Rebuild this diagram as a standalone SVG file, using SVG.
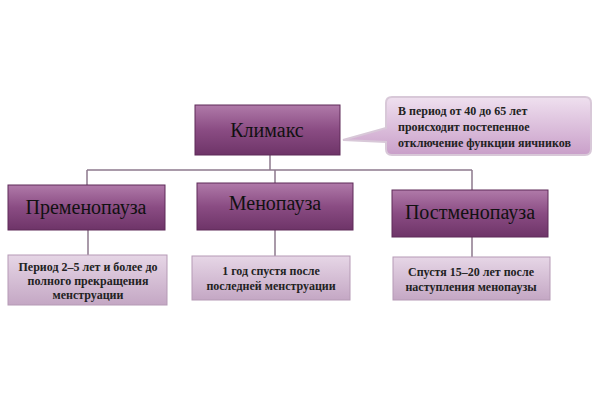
<svg xmlns="http://www.w3.org/2000/svg" width="600" height="400" viewBox="0 0 600 400">
<defs>
<linearGradient id="dk" x1="0" y1="0" x2="0" y2="1"><stop offset="0" stop-color="#b07aa9"/><stop offset="0.5" stop-color="#8a4c83"/><stop offset="1" stop-color="#6e3468"/></linearGradient>
<linearGradient id="lt" x1="0" y1="0" x2="0" y2="1"><stop offset="0" stop-color="#e6d6e6"/><stop offset="1" stop-color="#c4a7c4"/></linearGradient>
<linearGradient id="co" x1="0" y1="0" x2="0" y2="1"><stop offset="0" stop-color="#efe0ef"/><stop offset="1" stop-color="#c99fc9"/></linearGradient>
</defs>
<style>
.dk{fill:url(#dk);stroke:#5e2a59;stroke-width:1}
.lt{fill:url(#lt);stroke:#b59ab5;stroke-width:1}
.t1{font-family:"Liberation Serif",serif;font-size:20px;fill:#111;text-anchor:middle}
.t2{font-family:"Liberation Serif",serif;font-size:12px;font-weight:bold;fill:#222;text-anchor:middle}
.t3{font-family:"Liberation Serif",serif;font-size:12px;font-weight:bold;fill:#222;text-anchor:start}
.ln{fill:none;stroke:#8d7a8d;stroke-width:1.5}
</style>
<rect width="600" height="400" fill="#fff"/>
<g id="connectors">
<path class="ln" d="M270 155V170M87 170H472M87 170V185M275 170V183M472 170V190M88 230V255M275 230V256M472 237V257"/>
</g>
<g id="klimaks"><rect class="dk" x="195" y="105" width="145" height="50"/><text class="t1" x="267" y="137" font-size="22">Климакс</text></g>
<g id="callout"><path d="M392 97H585Q591 97 591 103V149Q591 155 585 155H392Q386 155 386 149V142L343 140L386 128V103Q386 97 392 97Z" fill="url(#co)" stroke="#d8c8d8" stroke-width="2"/>
<text class="t3" x="398" y="115">В период от 40 до 65 лет</text>
<text class="t3" x="398" y="131">происходит постепенное</text>
<text class="t3" x="398" y="147">отключение функции яичников</text></g>
<g id="premenopauza"><rect class="dk" x="8" y="185" width="157" height="45"/><text class="t1" x="86" y="214">Пременопауза</text></g>
<g id="menopauza"><rect class="dk" x="197" y="183" width="156" height="47"/><text class="t1" x="275" y="210">Менопауза</text></g>
<g id="postmenopauza"><rect class="dk" x="392" y="190" width="156" height="47"/><text class="t1" x="470" y="219">Постменопауза</text></g>
<g id="p1"><rect class="lt" x="8" y="255" width="159" height="50"/><text class="t2" x="88" y="271">Период 2–5 лет и более до</text><text class="t2" x="88" y="285">полного прекращения</text><text class="t2" x="88" y="299">менструации</text></g>
<g id="p2"><rect class="lt" x="192" y="256" width="158" height="44"/><text class="t2" x="271" y="275">1 год спустя после</text><text class="t2" x="271" y="290">последней менструации</text></g>
<g id="p3"><rect class="lt" x="393" y="257" width="157" height="43"/><text class="t2" x="471" y="276">Спустя 15–20 лет после</text><text class="t2" x="471" y="291">наступления менопаузы</text></g>
</svg>
